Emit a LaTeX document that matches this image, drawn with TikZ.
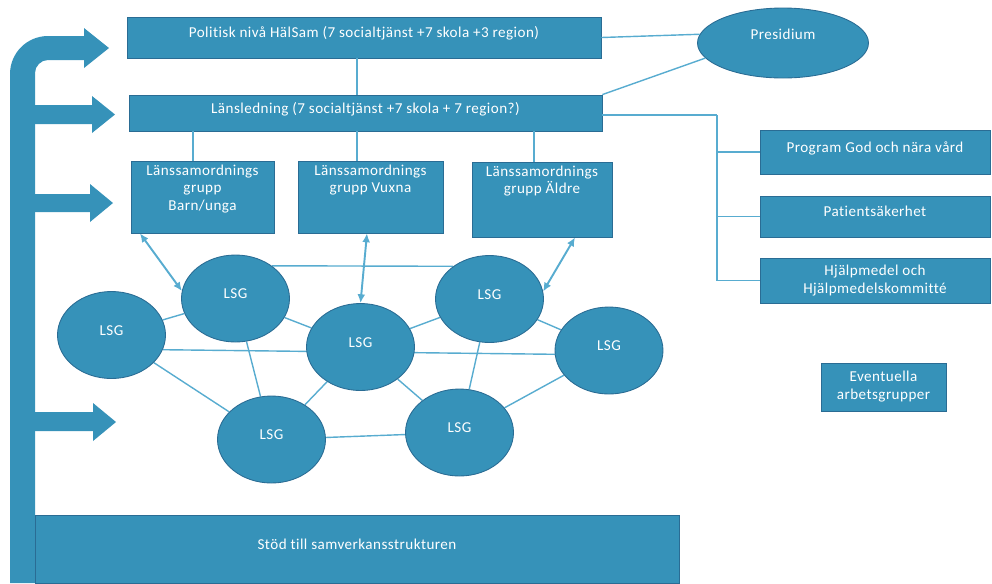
\documentclass[tikz,border=0pt]{standalone}
\usepackage{fontspec}
\setmainfont{Carlito}[LetterSpace=3,Ligatures=NoCommon]
\usetikzlibrary{shapes.geometric,arrows.meta,backgrounds}
\definecolor{boxblue}{RGB}{54,146,185}
\definecolor{boxedge}{RGB}{42,108,148}
\definecolor{linkblue}{RGB}{88,172,208}
\tikzset{
  blk/.style={draw=boxedge, line width=0.5pt, fill=boxblue, text=white,
    font=\fontsize{8.6}{10.2}\selectfont, inner sep=0pt},
  rbox/.style={blk, rectangle},
  oval/.style={blk, ellipse},
  lsg/.style={oval, minimum width=2.16cm, minimum height=1.74cm, lift},
  lift/.style={text height=6pt, text depth=6pt},
  highlift/.style={text height=6pt, text depth=10pt},
  link/.style={draw=linkblue, line width=0.8pt},
  dlink/.style={draw=linkblue, line width=1.1pt,
    {Latex[length=5pt,width=4.5pt]}-{Latex[length=5pt,width=4.5pt]}},
  fat/.style={fill=boxblue, draw=none}
}
\begin{document}
\begin{tikzpicture}[x=0.02cm, y=-0.02cm]
\useasboundingbox (0,0) rectangle (992,583);

% thick arrows
\path[fat] (10,583) -- (10,74) .. controls (10,53) and (27,36) .. (48,36)
  -- (84,36) -- (84,28) -- (109,48) -- (84,68) -- (84,60) -- (48,60)
  .. controls (41,60) and (35,66) .. (35,73) -- (35,583) -- cycle;
\path[fat] (34,105) -- (92,105) -- (92,96) -- (115,114.5) -- (92,133) -- (92,124) -- (34,124) -- cycle;
\path[fat] (34,194) -- (90,194) -- (90,184) -- (113,203) -- (90,222) -- (90,212) -- (34,212) -- cycle;
\path[fat] (34,412) -- (93,412) -- (93,403) -- (116,422) -- (93,441) -- (93,431) -- (34,431) -- cycle;

% boxes
\node[rbox, lift, minimum width=9.48cm, minimum height=0.82cm] (pol) at (364,37.5)
  {Politisk nivå HälSam (7 socialtjänst +7 skola +3 region)};
\node[rbox, lift, minimum width=9.46cm, minimum height=0.72cm] (lans) at (365.5,113)
  {Länsledning (7 socialtjänst +7 skola + 7 region?)};
\node[oval, highlift, minimum width=3.42cm, minimum height=1.40cm] (pres) at (783,43) {Presidium};

\node[rbox, minimum width=2.86cm, minimum height=1.44cm] (barn) at (202.5,197)
  {\parbox[c][1.3cm][t]{2.8cm}{\centering Länssamordnings\\grupp\\Barn/unga}};
\node[rbox, minimum width=2.90cm, minimum height=1.44cm] (vux) at (370.5,197)
  {\parbox[c][1.3cm][t]{2.8cm}{\centering Länssamordnings\\grupp Vuxna}};
\node[rbox, minimum width=2.80cm, minimum height=1.50cm] (aldre) at (542,199.5)
  {\parbox[c][1.36cm][t]{2.7cm}{\centering Länssamordnings\\grupp Äldre}};

\node[rbox, lift, minimum width=4.6cm, minimum height=0.88cm] (prog) at (875,152) {Program God och nära vård};
\node[rbox, lift, minimum width=4.6cm, minimum height=0.82cm] (pat) at (875,216.5) {Patientsäkerhet};
\node[rbox, align=center, minimum width=4.6cm, minimum height=0.90cm] (hjalp) at (875,280.5) {Hjälpmedel och\\Hjälpmedelskommitté};
\node[rbox, align=center, minimum width=2.5cm, minimum height=0.96cm] (event) at (883.5,387) {Eventuella\\arbetsgrupper};

\node[rbox, lift, minimum width=12.88cm, minimum height=1.36cm] (stod) at (357,549) {Stöd till samverkansstrukturen};

% LSG ellipses
\node[lsg] (l)  at (111.5,335) {LSG};
\node[lsg] (ul) at (235.5,298.5) {LSG};
\node[lsg] (m)  at (360.5,347) {LSG};
\node[lsg] (ur) at (489.5,299) {LSG};
\node[lsg] (r)  at (609,350.5) {LSG};
\node[lsg] (bl) at (271.5,439.5) {LSG};
\node[lsg] (br) at (459.5,432.5) {LSG};

% helper coordinates
\coordinate (c1) at (193,0);
\coordinate (c2) at (357,0);
\coordinate (c3) at (534,0);
\coordinate (c4) at (367,0);
\coordinate (c5) at (575,0);
\coordinate (c6) at (140,0);
\coordinate (tr) at (717,115);

\begin{scope}[on background layer]
  \draw[link] (l.-16) -- (r.184);
  \draw[link] (ul.42) -- (ur.138);
  \draw[link] (l) -- (ul);
  \draw[link] (ul) -- (m);
  \draw[link] (m) -- (ur);
  \draw[link] (ur) -- (r);
  \draw[link] (ul) -- (bl);
  \draw[link] (l) -- (bl);
  \draw[link] (m) -- (bl);
  \draw[link] (m) -- (br);
  \draw[link] (ur) -- (br);
  \draw[link] (bl) -- (br);
  \draw[link] (br) -- (r);
\end{scope}

% structure lines
\draw[link] (pol.south -| c2) -- (lans.north -| c2);
\draw[link] (lans.south -| c1) -- (barn.north -| c1);
\draw[link] (lans.south -| c2) -- (vux.north -| c2);
\draw[link] (lans.south -| c3) -- (aldre.north -| c3);
\draw[link] (pol.east) -- (pres.174);
\draw[link] (lans.north east) -- (pres.191);
\draw[link] (lans.east |- tr) -- (tr);
\draw[link] (tr) |- (prog.west);
\draw[link] (tr) |- (pat.west);
\draw[link] (tr) |- (hjalp.west);

% double arrows
\draw[dlink] (barn.south -| c6) -- (ul.172);
\draw[dlink] (vux.south -| c4) -- (m.north);
\draw[dlink] (aldre.south -| c5) -- (ur.8);
\end{tikzpicture}
\end{document}
